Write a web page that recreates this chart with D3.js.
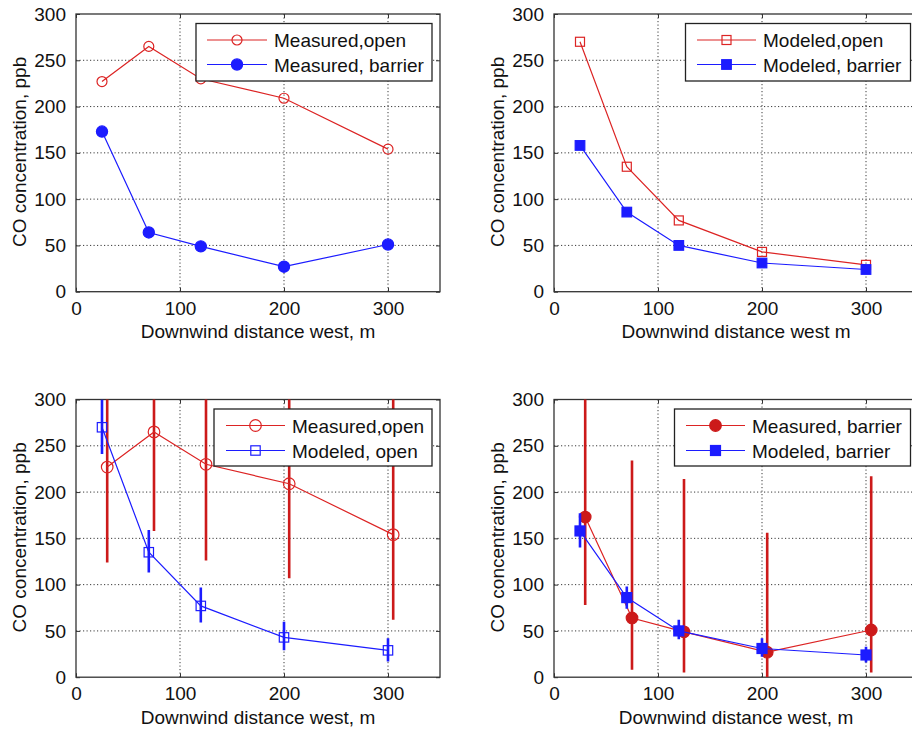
<!DOCTYPE html>
<html>
<head>
<meta charset="utf-8">
<script src="https://cdn.jsdelivr.net/npm/d3@7"></script>
<style>
  html, body { margin: 0; padding: 0; background: #fff; }
  svg { display: block; }
  text { font-family: "Liberation Sans", Arial, Helvetica, sans-serif; fill: #111; }
</style>
</head>
<body>
<svg id="chart" width="912" height="733"></svg>
<script>
// Downwind sampling distances (m)
const xDist = [25, 70, 120, 200, 300];
// Measured points are nudged right in the lower panels so bars don't overlap
const xShifted = [30, 75, 125, 205, 305];

// CO concentration, ppb
const measuredOpen    = [227, 265, 230, 209, 154];
const measuredBarrier = [173, 64, 49, 27, 51];
const modeledOpen     = [270, 135, 77, 43, 29];
const modeledBarrier  = [158, 86, 50, 31, 24];

// Error-bar bounds (ppb)
const measuredOpenLow     = [124, 158, 126, 107, 62];
const measuredOpenHigh    = [380, 390, 360, 340, 330];
const measuredBarrierLow  = [78, 8, 5, 0, 5];
const measuredBarrierHigh = [330, 234, 214, 156, 217];
const modeledOpenLow      = [241, 113, 59, 29, 17];
const modeledOpenHigh     = [300, 159, 97, 60, 42];
const modeledBarrierLow   = [140, 74, 41, 22, 16];
const modeledBarrierHigh  = [177, 98, 62, 42, 33];

const xTicks = [0, 100, 200, 300];
const yTicks = [0, 50, 100, 150, 200, 250, 300];
const xDomain = [0, 350];
const yDomain = [0, 300];

const yLabel = "CO concentration, ppb";

const RED = "#dc2424";
const RED_DARK = "#cc1a1a";
const BLUE = "#1c1cff";

const svg = d3.select("#chart");
const FS = 19;

function zip(xs, ys, lo, hi) {
  return xs.map((x, i) => ({ x, y: ys[i], lo: lo ? lo[i] : null, hi: hi ? hi[i] : null }));
}

const panels = [
  {
    left: 76, top: 14, xLabel: "Downwind distance west, m",
    legend: { x: 196, y: 23.5, w: 236, h: 57.5, lineX0: 207, lineX1: 267, textX: 274, rows: [40, 64.5] },
    series: [
      { name: "Measured,open", data: zip(xDist, measuredOpen), color: RED, marker: "circle", filled: false, r: 5 },
      { name: "Measured, barrier", data: zip(xDist, measuredBarrier), color: BLUE, marker: "circle", filled: true, r: 5.6 }
    ]
  },
  {
    left: 554, top: 14, xLabel: "Downwind distance west m",
    legend: { x: 685.5, y: 23.5, w: 225, h: 57.5, lineX0: 697, lineX1: 756, textX: 763, rows: [40, 64.5] },
    series: [
      { name: "Modeled,open", data: zip(xDist, modeledOpen), color: RED, marker: "square", filled: false, r: 4.5 },
      { name: "Modeled, barrier", data: zip(xDist, modeledBarrier), color: BLUE, marker: "square", filled: true, r: 4.8 }
    ]
  },
  {
    left: 76, top: 399.5, xLabel: "Downwind distance west, m",
    legend: { x: 214, y: 409, w: 218, h: 57, lineX0: 226, lineX1: 285, textX: 292, rows: [425.5, 450.5] },
    series: [
      { name: "Measured,open", data: zip(xShifted, measuredOpen, measuredOpenLow, measuredOpenHigh), color: RED, err: RED_DARK, marker: "circle", filled: false, r: 5.8 },
      { name: "Modeled, open", data: zip(xDist, modeledOpen, modeledOpenLow, modeledOpenHigh), color: BLUE, err: BLUE, marker: "square", filled: false, r: 4.7 }
    ]
  },
  {
    left: 554, top: 399.5, xLabel: "Downwind distance west, m",
    legend: { x: 674.5, y: 409, w: 236, h: 57, lineX0: 686, lineX1: 745, textX: 752, rows: [425.5, 450.5] },
    series: [
      { name: "Measured, barrier", data: zip(xShifted, measuredBarrier, measuredBarrierLow, measuredBarrierHigh), color: RED, fillColor: RED_DARK, err: RED_DARK, marker: "circle", filled: true, r: 5.8 },
      { name: "Modeled, barrier", data: zip(xDist, modeledBarrier, modeledBarrierLow, modeledBarrierHigh), color: BLUE, err: BLUE, marker: "square", filled: true, r: 5 }
    ]
  }
];

const W = 364, H = 277.7;

function drawMarker(g, s, cx, cy) {
  const fill = s.filled ? (s.fillColor || s.color) : "none";
  const stroke = s.filled ? (s.fillColor || s.color) : s.color;
  if (s.marker === "circle") {
    g.append("circle").attr("cx", cx).attr("cy", cy).attr("r", s.r)
      .attr("fill", fill).attr("stroke", stroke).attr("stroke-width", 1.2);
  } else {
    g.append("rect").attr("x", cx - s.r).attr("y", cy - s.r)
      .attr("width", 2 * s.r).attr("height", 2 * s.r)
      .attr("fill", fill).attr("stroke", stroke).attr("stroke-width", 1.2);
  }
}

panels.forEach((p, pi) => {
  const x = d3.scaleLinear().domain(xDomain).range([p.left, p.left + W]);
  const y = d3.scaleLinear().domain(yDomain).range([p.top + H, p.top]);
  const g = svg.append("g");

  const clipId = "clip" + pi;
  svg.append("clipPath").attr("id", clipId)
    .append("rect").attr("x", p.left).attr("y", p.top).attr("width", W).attr("height", H);

  // dotted grid
  const grid = g.append("g").attr("stroke", "#3a3a3a").attr("stroke-width", 1)
    .attr("stroke-dasharray", "1.2,2.3");
  xTicks.filter(t => t > xDomain[0] && t < xDomain[1]).forEach(t => {
    grid.append("line").attr("x1", x(t)).attr("x2", x(t)).attr("y1", p.top).attr("y2", p.top + H);
  });
  yTicks.filter(t => t > yDomain[0] && t < yDomain[1]).forEach(t => {
    grid.append("line").attr("x1", p.left).attr("x2", p.left + W).attr("y1", y(t)).attr("y2", y(t));
  });

  // axes via d3-axis (inward ticks)
  const xAxis = d3.axisBottom(x).tickValues(xTicks).tickSize(-4).tickPadding(9).tickFormat(d3.format("d"));
  const yAxis = d3.axisLeft(y).tickValues(yTicks).tickSize(-4).tickPadding(10).tickFormat(d3.format("d"));
  const gx = g.append("g").attr("transform", `translate(0,${p.top + H})`).call(xAxis);
  const gy = g.append("g").attr("transform", `translate(${p.left},0)`).call(yAxis);
  [gx, gy].forEach(a => {
    a.select(".domain").remove();
    a.selectAll("line").attr("stroke", "#333");
    a.selectAll("text").attr("font-size", FS).attr("fill", "#111")
      .style("font-family", '"Liberation Sans", Arial, sans-serif');
  });
  gx.selectAll("text").attr("dy", "0.75em");
  // mirror ticks on top and right
  const gt = g.append("g").attr("transform", `translate(0,${p.top})`)
    .call(d3.axisTop(x).tickValues(xTicks).tickSize(-4).tickFormat(""));
  const gr = g.append("g").attr("transform", `translate(${p.left + W},0)`)
    .call(d3.axisRight(y).tickValues(yTicks).tickSize(-4).tickFormat(""));
  [gt, gr].forEach(a => { a.select(".domain").remove(); a.selectAll("line").attr("stroke", "#333"); });

  // box
  g.append("rect").attr("x", p.left).attr("y", p.top).attr("width", W).attr("height", H)
    .attr("fill", "none").attr("stroke", "#333").attr("stroke-width", 1.3);

  // axis titles
  g.append("text").attr("x", p.left + W / 2).attr("y", p.top + H + 46.5)
    .attr("text-anchor", "middle").attr("font-size", FS).text(p.xLabel);
  g.append("text")
    .attr("transform", `translate(${p.left - 50},${p.top + H / 2 - 1}) rotate(-90)`)
    .attr("text-anchor", "middle").attr("font-size", FS).text(yLabel);

  // data
  const plot = g.append("g").attr("clip-path", `url(#${clipId})`);
  const line = d3.line().x(d => x(d.x)).y(d => y(d.y));
  p.series.forEach(s => {
    const sg = plot.append("g");
    if (s.err) {
      sg.selectAll("line.err").data(s.data).join("line")
        .attr("x1", d => x(d.x)).attr("x2", d => x(d.x))
        .attr("y1", d => y(d.lo)).attr("y2", d => y(d.hi))
        .attr("stroke", s.err).attr("stroke-width", 2.6);
    }
    sg.append("path").datum(s.data).attr("d", line)
      .attr("fill", "none").attr("stroke", s.color).attr("stroke-width", 1.2);
    s.data.forEach(d => drawMarker(sg, s, x(d.x), y(d.y)));
  });

  // legend
  const L = p.legend;
  const lg = g.append("g");
  lg.append("rect").attr("x", L.x).attr("y", L.y).attr("width", L.w).attr("height", L.h)
    .attr("fill", "#fff").attr("stroke", "#222").attr("stroke-width", 1.3);
  p.series.forEach((s, i) => {
    const cy = L.rows[i];
    lg.append("line").attr("x1", L.lineX0).attr("x2", L.lineX1).attr("y1", cy).attr("y2", cy)
      .attr("stroke", s.color).attr("stroke-width", 1.2);
    drawMarker(lg, s, (L.lineX0 + L.lineX1) / 2, cy);
    lg.append("text").attr("x", L.textX).attr("y", cy + 7).attr("font-size", FS).text(s.name);
  });
});
</script>
</body>
</html>
